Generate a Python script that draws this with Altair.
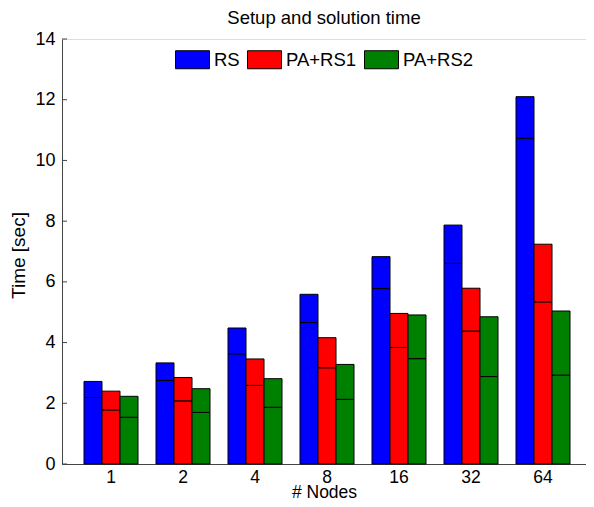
import altair as alt
import pandas as pd

nodes = ["1", "2", "4", "8", "16", "32", "64"]
series = ["RS", "PA+RS1", "PA+RS2"]
colors = ["#0000FF", "#FF0000", "#008000"]

# lower segment (setup) and total height of each stacked bar
rs_lower = [2.19, 2.75, 3.63, 4.66, 5.78, 6.61, 10.73]
rs_total = [2.72, 3.33, 4.48, 5.59, 6.83, 7.87, 12.10]
rs1_lower = [1.78, 2.08, 2.59, 3.17, 3.84, 4.38, 5.34]
rs1_total = [2.40, 2.85, 3.46, 4.16, 4.96, 5.79, 7.24]
rs2_lower = [1.54, 1.70, 1.87, 2.13, 3.47, 2.88, 2.93]
rs2_total = [2.23, 2.48, 2.81, 3.28, 4.91, 4.85, 5.04]

y_ticks = [0, 2, 4, 6, 8, 10, 12, 14]

lowers = {"RS": rs_lower, "PA+RS1": rs1_lower, "PA+RS2": rs2_lower}
totals = {"RS": rs_total, "PA+RS1": rs1_total, "PA+RS2": rs2_total}

rows = []
for s in series:
    for i, n in enumerate(nodes):
        rows.append({"nodes": n, "series": s, "phase": "setup", "start": 0.0, "end": lowers[s][i]})
        rows.append({"nodes": n, "series": s, "phase": "solution", "start": lowers[s][i], "end": totals[s][i]})
df = pd.DataFrame(rows)

FONT = "Liberation Sans"

bars = alt.Chart(df).mark_bar(stroke="black", strokeWidth=1, opacity=1).encode(
    x=alt.X(
        "nodes:N",
        sort=nodes,
        scale=alt.Scale(paddingInner=0.25, paddingOuter=0.2639, align=0.579),
        axis=alt.Axis(
            title="# Nodes",
            labelAngle=0,
            ticks=False,
            labelPadding=4,
            labelFontSize=17.5,
            titleFontSize=17.5,
            titleFontWeight="normal",
            titleY=33,
            titleBaseline="alphabetic",
            domainColor="#444444",
            labelColor="black",
            titleColor="black",
            labelFont=FONT,
            titleFont=FONT,
        ),
    ),
    xOffset=alt.XOffset("series:N", scale=alt.Scale(domain=series, paddingInner=0, paddingOuter=0)),
    y=alt.Y(
        "start:Q",
        scale=alt.Scale(domain=[0, 14], nice=False),
        axis=alt.Axis(
            title="Time [sec]",
            values=y_ticks,
            ticks=False,
            grid=False,
            labelPadding=7,
            labelFontSize=18,
            titleFontSize=19,
            titleFontWeight="normal",
            titleX=-44,
            titleY=216,
            titleAngle=270,
            titleAlign="center",
            titleBaseline="middle",
            domainColor="#444444",
            labelColor="black",
            titleColor="black",
            labelFont=FONT,
            titleFont=FONT,
        ),
    ),
    y2="end:Q",
    color=alt.Color(
        "series:N",
        scale=alt.Scale(domain=series, range=colors),
        legend=alt.Legend(
            title=None,
            orient="none",
            direction="horizontal",
            legendX=113,
            legendY=3,
            padding=0,
            symbolType="M-1,-0.53H1V0.53H-1Z",
            symbolSize=1156,
            symbolStrokeColor="black",
            symbolStrokeWidth=1,
            symbolOpacity=1,
            labelFontSize=18.5,
            labelFont=FONT,
            labelColor="black",
            labelOffset=4,
            columnPadding=5,
        ),
    ),
)

ticks_df = pd.DataFrame({"v": y_ticks})
ticks = alt.Chart(ticks_df).mark_rule(color="#444444", strokeWidth=1).encode(
    y=alt.Y("v:Q", scale=alt.Scale(domain=[0, 14], nice=False)),
    x=alt.value(0),
    x2=alt.value(5),
)

chart = alt.layer(bars, ticks).properties(
    width=524,
    height=425,
    autosize=alt.AutoSizeParams(type="none"),
    padding={"left": 54, "top": 31, "right": 0, "bottom": 35},
    title=alt.Title(
        "Setup and solution time",
        fontSize=18.5,
        font=FONT,
        fontWeight="normal",
        color="black",
        anchor="middle",
        offset=3,
    ),
).configure_view(stroke=None).configure(font=FONT)

chart.save("out.html", embed_options={"renderer": "svg", "actions": False})
